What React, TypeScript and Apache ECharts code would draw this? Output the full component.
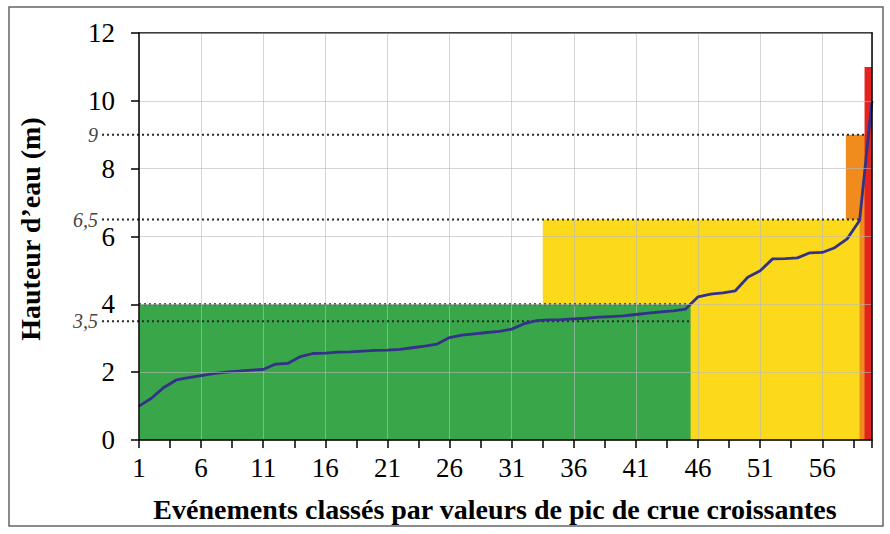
import React, { useEffect, useRef } from "react";
import * as echarts from "echarts";

// Peak water heights (m), events sorted by increasing peak value (events 1..60)
const heights = [
  1.0, 1.23, 1.55, 1.77, 1.84, 1.9, 1.96, 2.0, 2.03, 2.06,
  2.08, 2.24, 2.26, 2.46, 2.55, 2.56, 2.59, 2.6, 2.62, 2.64,
  2.65, 2.67, 2.72, 2.77, 2.83, 3.02, 3.09, 3.13, 3.17, 3.2,
  3.27, 3.43, 3.52, 3.54, 3.55, 3.57, 3.59, 3.62, 3.64, 3.66,
  3.7, 3.74, 3.78, 3.81, 3.86, 4.22, 4.3, 4.34, 4.4, 4.8,
  4.99, 5.34, 5.35, 5.37, 5.52, 5.53, 5.67, 5.93, 6.47, 10.0,
];

// Coloured zones (in event-number units along x, metres along y), drawn in this order
const zoneStarts = [57.9, 33.5, 1, 59.4];
const zoneEnds = [59.5, 59.0, 45.4, 60];
const zoneTops = [9, 6.5, 4, 11];
const zoneColors = ["#f08c1e", "#fdd91b", "#39a64a", "#e2231f"];

// Threshold dotted lines
const thresholdLevels = [3.5, 4, 6.5, 9];
const thresholdEnds = [45.4, 45.4, 59.0, 59.4];
const thresholdLabels = ["3,5", "", "6,5", "9"];
const thresholdFromOutside = [true, false, true, true];

const yTicks = { min: 0, max: 12, interval: 2 };
const xTitle = "Evénements classés par valeurs de pic de crue croissantes";
const yTitle = "Hauteur d’eau (m)";

const SERIF = "'Liberation Serif', 'Times New Roman', serif";

export default function App() {
  const ref = useRef<HTMLDivElement>(null);

  useEffect(() => {
    if (!ref.current) return;
    const chart = echarts.init(ref.current, null, { renderer: "svg" });

    const nEvents = heights.length;
    const xMax = nEvents - 1; // axis value = event number - 1
    const lineData = heights.map((h, i) => [i, h]);
    const zoneData = zoneStarts.map((s, i) => [s - 1, zoneEnds[i] - 1, zoneTops[i], i]);
    const thrData = thresholdLevels.map((lv, i) => [thresholdEnds[i] - 1, lv, i]);

    const gridColor = "rgba(185,185,185,0.6)";

    chart.setOption({
      animation: false,
      grid: { left: 139, right: 18, top: 33, bottom: 94 },
      xAxis: [
        {
          type: "value",
          min: 0,
          max: xMax,
          interval: 2.5,
          position: "bottom",
          z: 6,
          axisLine: { show: true, onZero: false, lineStyle: { color: "#000", width: 1.5 } },
          axisTick: { show: true, inside: false, length: 8, lineStyle: { color: "#000", width: 1.5 } },
          axisLabel: {
            margin: 14,
            fontFamily: SERIF,
            fontSize: 27,
            color: "#000",
            formatter: (v: number) => (Math.abs(v % 5) < 1e-9 ? String(v + 1) : ""),
          },
          splitLine: { show: false },
        },
        {
          type: "value",
          min: 0,
          max: xMax,
          interval: 5,
          position: "top",
          z: 0,
          axisLine: { show: true, onZero: false, lineStyle: { color: "#000", width: 1.5 } },
          axisTick: { show: false },
          axisLabel: { show: false },
          splitLine: { show: true, lineStyle: { color: gridColor, width: 1 } },
        },
      ],
      yAxis: [
        {
          type: "value",
          min: yTicks.min,
          max: yTicks.max,
          interval: yTicks.interval,
          position: "left",
          z: 6,
          axisLine: { show: true, onZero: false, lineStyle: { color: "#000", width: 1.5 } },
          axisTick: { show: true, inside: false, length: 8, lineStyle: { color: "#000", width: 1.5 } },
          axisLabel: { margin: 24, fontFamily: SERIF, fontSize: 27, color: "#000" },
          splitLine: { show: true, lineStyle: { color: gridColor, width: 1 } },
        },
        {
          type: "value",
          min: yTicks.min,
          max: yTicks.max,
          interval: yTicks.interval,
          position: "right",
          z: 6,
          axisLine: { show: true, onZero: false, lineStyle: { color: "#000", width: 1.5 } },
          axisTick: { show: false },
          axisLabel: { show: false },
          splitLine: { show: false },
        },
      ],
      series: [
        {
          type: "custom",
          name: "zones",
          z: -1,
          xAxisIndex: 0,
          yAxisIndex: 0,
          data: zoneData,
          encode: { x: [0, 1], y: 2 },
          renderItem: (params: any, api: any) => {
            const s = api.value(0);
            const e = api.value(1);
            const t = api.value(2);
            const idx = api.value(3);
            const p0 = api.coord([s, t]);
            const p1 = api.coord([e, 0]);
            return {
              type: "rect",
              shape: { x: p0[0], y: p0[1], width: p1[0] - p0[0], height: p1[1] - p0[1] },
              style: { fill: zoneColors[idx] },
            };
          },
        },
        {
          type: "custom",
          name: "thresholds",
          z: 4,
          clip: false,
          xAxisIndex: 0,
          yAxisIndex: 0,
          data: thrData,
          encode: { x: 0, y: 1 },
          renderItem: (params: any, api: any) => {
            const end = api.value(0);
            const lv = api.value(1);
            const idx = api.value(2);
            const pStart = api.coord([0, lv]);
            const pEnd = api.coord([end, lv]);
            const x0 = thresholdFromOutside[idx] ? pStart[0] - 37 : pStart[0];
            const children: any[] = [
              {
                type: "line",
                shape: { x1: x0, y1: pStart[1], x2: pEnd[0], y2: pEnd[1] },
                style: { stroke: "#2a2a2a", lineWidth: 2, lineDash: [2, 3] },
              },
            ];
            if (thresholdLabels[idx]) {
              children.push({
                type: "text",
                x: pStart[0] - 41,
                y: pStart[1],
                style: {
                  text: thresholdLabels[idx],
                  fontFamily: SERIF,
                  fontStyle: "italic",
                  fontSize: 20,
                  fill: "#444",
                  align: "right",
                  verticalAlign: "middle",
                },
              });
            }
            return { type: "group", children };
          },
        },
        {
          type: "line",
          name: "Hauteur",
          z: 5,
          xAxisIndex: 0,
          yAxisIndex: 0,
          data: lineData,
          symbol: "none",
          smooth: false,
          lineStyle: { color: "#34318a", width: 2.8 },
        },
      ],
      graphic: [
        {
          type: "rect",
          shape: { x: 9, y: 7, width: 874, height: 519 },
          style: { fill: "none", stroke: "#666", lineWidth: 1.5 },
          z: -10,
        },
        {
          type: "text",
          x: 30,
          y: 229,
          rotation: Math.PI / 2,
          style: {
            text: yTitle,
            fontFamily: SERIF,
            fontWeight: "bold",
            fontSize: 28,
            fill: "#000",
            align: "center",
            verticalAlign: "middle",
          },
        },
        {
          type: "text",
          x: 495,
          y: 509,
          style: {
            text: xTitle,
            fontFamily: SERIF,
            fontWeight: "bold",
            fontSize: 28,
            fill: "#000",
            align: "center",
            verticalAlign: "middle",
          },
        },
      ],
    });

    return () => chart.dispose();
  }, []);

  return (
    <div
      ref={ref}
      style={{ position: "fixed", left: 0, top: 0, width: 890, height: 534, background: "#fff" }}
    />
  );
}
